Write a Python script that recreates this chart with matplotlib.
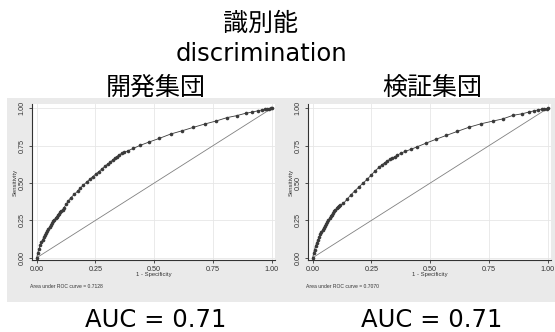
import matplotlib
matplotlib.use("Agg")
import matplotlib.pyplot as plt
from matplotlib.patches import Rectangle

# ROC points: development cohort
dev_fpr = [0, 0.005, 0.010, 0.015, 0.020, 0.025, 0.030, 0.035, 0.040, 0.045,
           0.050, 0.055, 0.060, 0.065, 0.070, 0.075, 0.080, 0.085, 0.090, 0.095,
           0.100, 0.105, 0.110, 0.115, 0.125, 0.135, 0.145, 0.160, 0.174, 0.184,
           0.199, 0.213, 0.227, 0.238, 0.251, 0.264, 0.277, 0.291, 0.302, 0.312,
           0.323, 0.332, 0.340, 0.350, 0.362, 0.372, 0.390, 0.411, 0.440, 0.479,
           0.522, 0.570, 0.619, 0.667, 0.715, 0.763, 0.810, 0.851, 0.889, 0.918,
           0.942, 0.959, 0.972, 0.982, 0.990, 0.997, 1.0]
dev_tpr = [0, 0.035, 0.060, 0.083, 0.103, 0.120, 0.137, 0.153, 0.168, 0.182,
           0.195, 0.207, 0.219, 0.231, 0.243, 0.254, 0.265, 0.275, 0.285, 0.294,
           0.303, 0.312, 0.321, 0.332, 0.357, 0.382, 0.402, 0.424, 0.446, 0.464,
           0.487, 0.507, 0.527, 0.542, 0.560, 0.576, 0.594, 0.614, 0.627, 0.638,
           0.654, 0.667, 0.676, 0.688, 0.699, 0.705, 0.717, 0.732, 0.752, 0.775,
           0.799, 0.828, 0.850, 0.873, 0.895, 0.915, 0.938, 0.951, 0.967, 0.975,
           0.984, 0.989, 0.993, 0.996, 0.998, 1.0, 1.0]

# ROC points: validation cohort
val_fpr = [0, 0.004, 0.008, 0.012, 0.017, 0.022, 0.027, 0.032, 0.037, 0.042,
           0.047, 0.052, 0.057, 0.062, 0.067, 0.072, 0.077, 0.082, 0.087, 0.092,
           0.097, 0.102, 0.107, 0.112, 0.118, 0.131, 0.147, 0.162, 0.178, 0.195,
           0.213, 0.232, 0.249, 0.267, 0.282, 0.294, 0.306, 0.317, 0.327, 0.337,
           0.349, 0.360, 0.374, 0.394, 0.417, 0.445, 0.484, 0.523, 0.569, 0.616,
           0.664, 0.717, 0.768, 0.808, 0.852, 0.892, 0.920, 0.943, 0.960, 0.974,
           0.986, 0.996, 1.0]
val_tpr = [0, 0.030, 0.055, 0.078, 0.100, 0.120, 0.139, 0.156, 0.172, 0.187,
           0.201, 0.215, 0.228, 0.241, 0.253, 0.265, 0.277, 0.288, 0.299, 0.310,
           0.320, 0.330, 0.339, 0.348, 0.352, 0.364, 0.393, 0.420, 0.446, 0.471,
           0.498, 0.525, 0.554, 0.583, 0.605, 0.621, 0.636, 0.647, 0.658, 0.667,
           0.676, 0.685, 0.699, 0.712, 0.725, 0.743, 0.768, 0.792, 0.819, 0.846,
           0.873, 0.897, 0.915, 0.929, 0.953, 0.964, 0.975, 0.984, 0.989, 0.993,
           0.996, 0.998, 1.0]

cohort_titles = ["開発集団", "検証集団"]
auc_exact = ["0.7128", "0.7070"]
auc_rounded = ["0.71", "0.71"]
tick_vals = [0.0, 0.25, 0.5, 0.75, 1.0]
tick_labels = ["0.00", "0.25", "0.50", "0.75", "1.00"]

W, H = 555, 332
fig = plt.figure(figsize=(W / 100, H / 100), dpi=100)
fig.patch.set_facecolor("white")

def fx(px):
    return px / W

def fy(py):
    return 1 - py / H

# light gray graph region behind both panels
bg = fig.add_axes([0, 0, 1, 1], zorder=-1)
bg.set_xlim(0, W)
bg.set_ylim(H, 0)
bg.axis("off")
bg.add_patch(Rectangle((7, 98), 548, 204, facecolor="#EAEAEA", edgecolor="none"))

small = ["Liberation Sans", "DejaVu Sans"]
cjk = ["Noto Sans CJK JP", "DejaVu Sans"]

panels = [(32, dev_fpr, dev_tpr), (308, val_fpr, val_tpr)]
for i, (left_px, fpr, tpr) in enumerate(panels):
    ax = fig.add_axes([fx(left_px), fy(260), fx(243), 156 / H])
    ax.set_facecolor("white")
    ax.set_xlim(-0.020, 1.014)
    ax.set_ylim(-0.015, 1.029)
    ax.plot([0, 1], [0, 1], color="#808080", lw=0.6, zorder=2)
    ax.plot(fpr, tpr, color="#3a3a3a", lw=0.6, marker="o", markersize=2.6,
            markeredgewidth=0, markerfacecolor="#3a3a3a", zorder=3)
    ax.set_xticks(tick_vals)
    ax.set_xticklabels(tick_labels, fontsize=5.2, family=small, color="#333333")
    ax.set_yticks(tick_vals)
    ax.set_yticklabels(tick_labels, fontsize=5.2, family=small, color="#333333",
                       rotation=90, va="center")
    ax.grid(True, color="#E6E6E6", lw=0.6)
    ax.set_axisbelow(True)
    for s in ["top", "right"]:
        ax.spines[s].set_visible(False)
    for s in ["left", "bottom"]:
        ax.spines[s].set_color("#333333")
        ax.spines[s].set_linewidth(0.8)
    ax.tick_params(direction="out", length=2.5, width=0.6, color="#333333", pad=2)
    ax.set_ylabel("Sensitivity", fontsize=4.2, family=small, color="#333333", labelpad=1)
    ax.set_xlabel("1 - Specificity", fontsize=4.2, family=small, color="#333333", labelpad=-1)
    fig.text(fx(left_px - 2), fy(286), f"Area under ROC curve = {auc_exact[i]}",
             fontsize=3.6, family=small, color="#333333", va="center", ha="left")
    cx = left_px + 124
    fig.text(fx(cx), fy(88), cohort_titles[i], fontsize=18, family=cjk,
             ha="center", va="center", color="black")
    fig.text(fx(cx), fy(320), f"AUC = {auc_rounded[i]}", fontsize=17.5,
             family=["DejaVu Sans"], ha="center", va="center", color="black")

fig.text(fx(260), fy(24), "識別能", fontsize=18, family=cjk,
         ha="center", va="center", color="black")
fig.text(fx(261), fy(54), "discrimination", fontsize=17.5, family=["DejaVu Sans"],
         ha="center", va="center", color="black")

fig.savefig("out.png", dpi=100)
